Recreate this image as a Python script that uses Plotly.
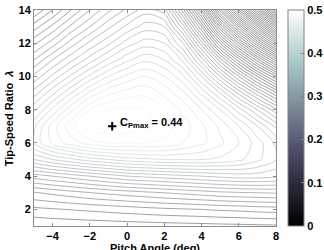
import plotly.graph_objects as go

# Pitch angle (deg) grid and tip-speed ratio grid
pitch = [-5, -4, -3, -2, -1, 0, 1, 2, 3, 4, 5, 6, 7, 8]
tsr = [1, 2, 3, 4, 5, 6, 7, 8, 9, 10, 11, 12, 13, 14]

# Estimated power coefficient Cp along tip-speed ratio (1..14) for each pitch angle
cp_pitch_m5 = [0.003, 0.035, 0.078, 0.15, 0.24, 0.305, 0.295, 0.255, 0.21, 0.165, 0.12, 0.075, 0.03, -0.02]
cp_pitch_m4 = [0.005, 0.038, 0.085, 0.16, 0.26, 0.345, 0.35, 0.305, 0.255, 0.205, 0.16, 0.11, 0.065, 0.02]
cp_pitch_m3 = [0.006, 0.041, 0.092, 0.17, 0.275, 0.37, 0.395, 0.355, 0.30, 0.245, 0.195, 0.15, 0.105, 0.06]
cp_pitch_m2 = [0.007, 0.044, 0.099, 0.18, 0.29, 0.39, 0.43, 0.40, 0.345, 0.285, 0.23, 0.185, 0.14, 0.10]
cp_pitch_m1 = [0.008, 0.047, 0.105, 0.19, 0.30, 0.40, 0.44, 0.42, 0.375, 0.32, 0.265, 0.215, 0.175, 0.135]
cp_pitch_0 = [0.009, 0.05, 0.11, 0.20, 0.31, 0.40, 0.435, 0.425, 0.39, 0.345, 0.295, 0.25, 0.205, 0.165]
cp_pitch_p1 = [0.010, 0.053, 0.115, 0.205, 0.315, 0.40, 0.425, 0.42, 0.395, 0.36, 0.315, 0.27, 0.23, 0.19]
cp_pitch_p2 = [0.011, 0.056, 0.12, 0.21, 0.32, 0.395, 0.41, 0.40, 0.375, 0.34, 0.30, 0.26, 0.22, 0.17]
cp_pitch_p3 = [0.012, 0.058, 0.125, 0.215, 0.32, 0.38, 0.39, 0.375, 0.345, 0.305, 0.255, 0.20, 0.13, 0.05]
cp_pitch_p4 = [0.013, 0.06, 0.13, 0.22, 0.32, 0.365, 0.365, 0.34, 0.295, 0.24, 0.17, 0.09, 0.0, -0.10]
cp_pitch_p5 = [0.014, 0.063, 0.135, 0.225, 0.315, 0.345, 0.335, 0.30, 0.24, 0.16, 0.07, -0.04, -0.16, -0.29]
cp_pitch_p6 = [0.015, 0.065, 0.138, 0.23, 0.305, 0.32, 0.30, 0.25, 0.175, 0.08, -0.03, -0.16, -0.30, -0.46]
cp_pitch_p7 = [0.016, 0.068, 0.14, 0.23, 0.285, 0.29, 0.26, 0.20, 0.11, 0.0, -0.13, -0.28, -0.44, -0.62]
cp_pitch_p8 = [0.017, 0.07, 0.142, 0.225, 0.26, 0.255, 0.215, 0.145, 0.045, -0.08, -0.23, -0.40, -0.58, -0.78]

cp_max_pitch = -0.8
cp_max_tsr = 7.0
cp_max_label = "C<sub>Pmax</sub> = 0.44"

colorbar_ticks = [0, 0.1, 0.2, 0.3, 0.4, 0.5]
x_ticks = [-4, -2, 0, 2, 4, 6, 8]
y_ticks = [2, 4, 6, 8, 10, 12, 14]

columns = [cp_pitch_m5, cp_pitch_m4, cp_pitch_m3, cp_pitch_m2, cp_pitch_m1, cp_pitch_0,
           cp_pitch_p1, cp_pitch_p2, cp_pitch_p3, cp_pitch_p4, cp_pitch_p5, cp_pitch_p6,
           cp_pitch_p7, cp_pitch_p8]
z = [list(row) for row in zip(*columns)]

bone = [[0.0, 'rgb(0,0,0)'], [0.365, 'rgb(81,81,113)'],
        [0.746, 'rgb(166,198,198)'], [1.0, 'rgb(255,255,255)']]
# same map, lightened for the thin contour strokes
bone_lines = [[0.0, 'rgba(40,40,40,0.6)'], [0.365, 'rgba(90,90,110,0.55)'],
              [0.746, 'rgba(170,190,190,0.6)'], [1.0, 'rgba(240,240,240,0.6)']]

bold = dict(family="Liberation Sans", size=11, color="black", weight="bold")

fig = go.Figure()
fig.add_trace(go.Contour(
    x=pitch, y=tsr, z=z,
    contours=dict(start=-0.80, end=0.42, size=0.02, coloring='lines'),
    line=dict(width=0.8),
    colorscale=bone_lines, zmin=0, zmax=0.5, showscale=False,
    hoverinfo='skip'))

# colour bar
fig.add_trace(go.Scatter(
    x=[-20], y=[-20], mode='markers', showlegend=False, hoverinfo='skip',
    marker=dict(color=[0.25], cmin=0, cmax=0.5, colorscale=bone, showscale=True,
                colorbar=dict(thickness=16, thicknessmode='pixels', len=1, lenmode='fraction',
                              y=0.5, yanchor='middle', x=1.05, xanchor='left', xpad=0, ypad=0,
                              outlinewidth=1, outlinecolor='rgb(130,130,130)',
                              tickvals=colorbar_ticks, ticktext=[str(t) for t in colorbar_ticks],
                              ticks='inside', ticklen=3, tickcolor='rgb(130,130,130)',
                              tickfont=bold))))

fig.add_trace(go.Scatter(
    x=[cp_max_pitch], y=[cp_max_tsr], mode='markers', showlegend=False, hoverinfo='skip',
    marker=dict(symbol='cross-thin', size=6, line=dict(width=2, color='black'), color='black')))

fig.add_annotation(x=cp_max_pitch, y=cp_max_tsr, text=cp_max_label, showarrow=False,
                   xanchor='left', yanchor='middle', xshift=6, yshift=3,
                   font=dict(family="Liberation Sans", size=11, color="black", weight="bold"))

# axis titles
fig.add_annotation(xref='paper', yref='paper', x=0.5, y=-0.066, yanchor='top', xanchor='center',
                   text='Pitch Angle (deg)', showarrow=False, font=bold)
fig.add_annotation(xref='paper', yref='paper', x=-0.102, y=0.5, xanchor='center', yanchor='middle',
                   textangle=-90, text='Tip-Speed Ratio  <i>λ</i>', showarrow=False, font=bold)

axis_common = dict(showgrid=False, zeroline=False, showline=True, linecolor='rgb(140,140,140)',
                   linewidth=1, mirror='ticks', ticks='inside', ticklen=3,
                   tickcolor='rgb(140,140,140)', tickfont=bold, automargin=False)

fig.update_xaxes(range=[-5, 8], tickvals=x_ticks, **axis_common)
fig.update_yaxes(range=[1, 14], tickvals=y_ticks, **axis_common)

fig.update_layout(width=324, height=250, margin=dict(l=34, r=48, t=10, b=24, autoexpand=False),
                  paper_bgcolor='white', plot_bgcolor='white', showlegend=False,
                  font=dict(family="Liberation Sans"))

fig.write_html("out.html")
